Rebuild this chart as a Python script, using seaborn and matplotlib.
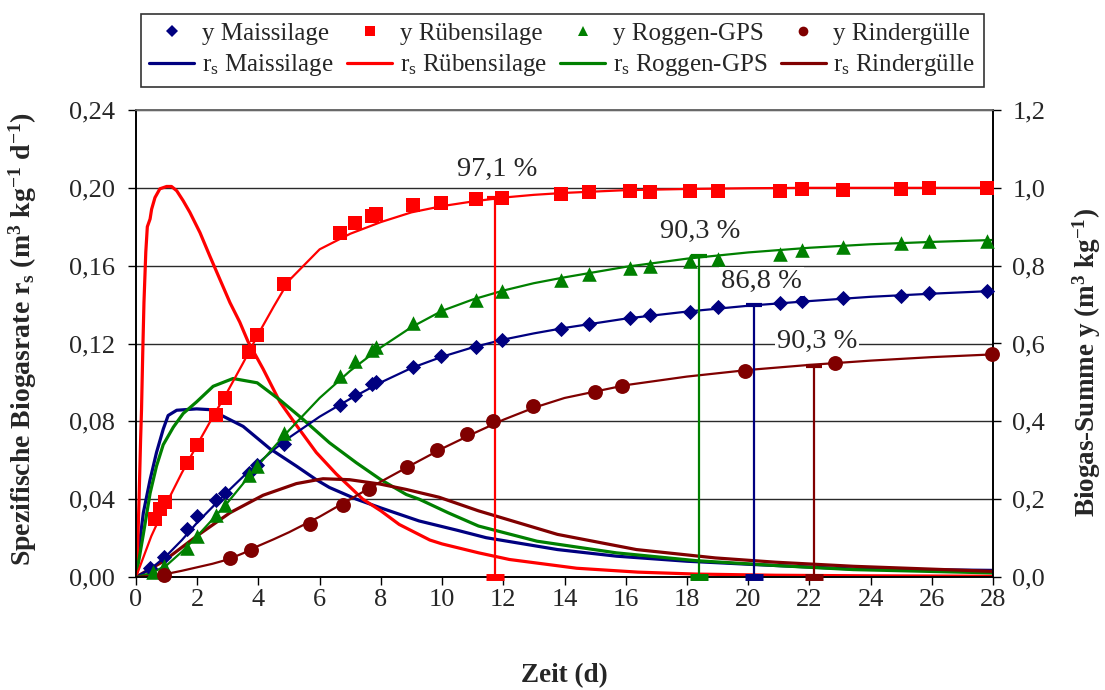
import matplotlib
matplotlib.use("Agg")
import matplotlib.pyplot as plt
from matplotlib.lines import Line2D
from matplotlib.ticker import FuncFormatter, MultipleLocator
import seaborn as sns

# ---------------- data ----------------
# cumulative biogas yield y (m3/kg) – measured points
t_mais = [0.45, 0.9, 1.65, 2.0, 2.6, 2.9, 3.7, 3.95, 4.85, 6.65, 7.15, 7.7, 7.85, 9.05, 9.95,
          11.1, 11.95, 13.9, 14.8, 16.15, 16.8, 18.1, 19.0, 21.05, 21.75, 23.1, 25.0, 25.9, 27.8]
y_mais = [0.024, 0.052, 0.124, 0.156, 0.199, 0.216, 0.268, 0.289, 0.343, 0.443, 0.468, 0.495, 0.501,
          0.539, 0.567, 0.591, 0.608, 0.637, 0.651, 0.665, 0.674, 0.682, 0.693, 0.705, 0.708, 0.717,
          0.723, 0.731, 0.734]

t_rueben = [0.62, 0.8, 0.95, 1.65, 2.0, 2.6, 2.9, 3.7, 3.95, 4.85, 6.65, 7.15, 7.7, 7.85, 9.05, 9.95,
            11.1, 11.95, 13.9, 14.8, 16.15, 16.8, 18.1, 19.0, 21.05, 21.75, 23.1, 25.0, 25.9, 27.8]
y_rueben = [0.150, 0.175, 0.192, 0.292, 0.340, 0.416, 0.461, 0.578, 0.621, 0.752, 0.883, 0.909, 0.927,
            0.932, 0.956, 0.962, 0.972, 0.974, 0.985, 0.989, 0.991, 0.990, 0.992, 0.991, 0.991, 0.996,
            0.995, 0.998, 0.999, 1.000]

t_roggen = [0.55, 0.9, 1.65, 2.0, 2.6, 2.9, 3.7, 3.95, 4.85, 6.65, 7.15, 7.7, 7.85, 9.05, 9.95,
            11.1, 11.95, 13.9, 14.8, 16.15, 16.8, 18.1, 19.0, 21.05, 21.75, 23.1, 25.0, 25.9, 27.8]
y_roggen = [0.012, 0.027, 0.075, 0.105, 0.160, 0.186, 0.261, 0.286, 0.370, 0.516, 0.554, 0.583, 0.590,
            0.652, 0.685, 0.712, 0.734, 0.762, 0.779, 0.794, 0.800, 0.813, 0.818, 0.831, 0.841, 0.848,
            0.858, 0.864, 0.864]

t_rinder = [0.9, 3.07, 3.77, 5.67, 6.76, 7.61, 8.85, 9.83, 10.8, 11.66, 12.97, 15.0, 15.87, 19.9,
            22.85, 27.96]
y_rinder = [0.004, 0.049, 0.070, 0.137, 0.186, 0.225, 0.282, 0.326, 0.368, 0.401, 0.440, 0.476, 0.490,
            0.530, 0.551, 0.573]

# cumulative yield y – fitted curves
tf = [0, 0.5, 1, 1.5, 2, 2.5, 3, 3.5, 4, 4.5, 5, 6, 7, 8, 9, 10, 11, 12, 13, 14, 16, 18, 20, 22, 24,
      26, 28]
yf_mais = [0, 0.022, 0.055, 0.095, 0.140, 0.180, 0.220, 0.258, 0.293, 0.327, 0.358, 0.412, 0.458,
           0.500, 0.537, 0.566, 0.590, 0.610, 0.626, 0.640, 0.664, 0.682, 0.697, 0.709, 0.720, 0.728,
           0.735]
yf_rueben = [0, 0.105, 0.190, 0.268, 0.340, 0.410, 0.478, 0.550, 0.625, 0.695, 0.762, 0.842, 0.882,
             0.912, 0.937, 0.953, 0.965, 0.975, 0.982, 0.987, 0.994, 0.997, 0.999, 1.0, 1.0, 1.0, 1.0]
yf_roggen = [0, 0.010, 0.030, 0.065, 0.105, 0.148, 0.192, 0.240, 0.288, 0.333, 0.377, 0.460, 0.530,
             0.590, 0.642, 0.684, 0.713, 0.736, 0.755, 0.770, 0.797, 0.818, 0.834, 0.846, 0.855, 0.861,
             0.866]
yf_rinder = [0, 0.003, 0.008, 0.016, 0.025, 0.034, 0.045, 0.061, 0.080, 0.097, 0.115, 0.155, 0.200,
             0.245, 0.288, 0.330, 0.368, 0.404, 0.435, 0.460, 0.493, 0.515, 0.532, 0.545, 0.556, 0.565,
             0.572]

# specific biogas rate r_s (m3/(kg d))
tr_mais = [0, 0.13, 0.24, 0.46, 0.67, 0.89, 1.05, 1.33, 1.98, 2.41, 2.85, 3.5, 4.37, 5.24, 5.89, 6.32,
           7.2, 8.0, 9.25, 10.5, 11.44, 13.77, 15.7, 18.0, 20.2, 23.44, 28]
rs_mais = [0, 0.019, 0.033, 0.050, 0.064, 0.076, 0.083, 0.0857, 0.0864, 0.086, 0.0826, 0.0774, 0.066,
           0.057, 0.050, 0.046, 0.040, 0.0355, 0.0288, 0.024, 0.0202, 0.0141, 0.0107, 0.0081, 0.0064,
           0.0041, 0.0034]

tr_rueben = [0, 0.05, 0.10, 0.15, 0.18, 0.22, 0.26, 0.32, 0.37, 0.46, 0.51, 0.62, 0.78, 1.0, 1.16,
             1.33, 1.54, 1.76, 2.09, 2.41, 2.74, 3.07, 3.39, 3.66, 4.15, 4.70, 5.24, 5.89, 6.54, 7.41,
             8.0, 8.6, 9.6, 10.0, 11.2, 12.2, 14.4, 16.4, 18.3, 20.9, 24, 28]
rs_rueben = [0, 0.013, 0.040, 0.0705, 0.0857, 0.115, 0.141, 0.167, 0.180, 0.184, 0.189, 0.195, 0.1995,
             0.2007, 0.2007, 0.1985, 0.1934, 0.1874, 0.177, 0.165, 0.153, 0.141, 0.131, 0.121, 0.107,
             0.090, 0.078, 0.064, 0.053, 0.040, 0.034, 0.027, 0.019, 0.017, 0.0124, 0.009, 0.0045,
             0.0025, 0.0015, 0.0009, 0.0006, 0.0004]

tr_roggen = [0, 0.24, 0.46, 0.67, 0.89, 1.22, 1.54, 1.98, 2.52, 3.17, 3.96, 4.7, 5.46, 6.32, 7.2, 8.0,
             8.83, 9.25, 10.2, 11.19, 13.1, 15.7, 18.3, 20.9, 23.44, 28]
rs_roggen = [0, 0.022, 0.043, 0.057, 0.068, 0.077, 0.084, 0.0900, 0.098, 0.1020, 0.0998, 0.091, 0.081,
             0.069, 0.0587, 0.050, 0.0424, 0.040, 0.033, 0.0262, 0.0184, 0.0124, 0.0084, 0.0059,
             0.0038, 0.0021]

tr_rinder = [0, 0.89, 1.98, 3.07, 4.15, 5.24, 6.11, 6.98, 7.96, 8.83, 9.9, 11.19, 13.77, 16.35, 18.93,
             20.9, 23.44, 28]
rs_rinder = [0, 0.008, 0.021, 0.033, 0.042, 0.048, 0.0505, 0.050, 0.0478, 0.045, 0.041, 0.034, 0.0219,
             0.0141, 0.0098, 0.0076, 0.0055, 0.0029]

# degradation markers: time, yield reached, label
mark_t = [11.74, 18.38, 20.18, 22.16]
mark_y = [0.974, 0.824, 0.700, 0.5425]
mark_label = ["97,1 %", "90,3 %", "86,8 %", "90,3 %"]
mark_label_xy = [(11.8, 1.047), (18.43, 0.888), (20.43, 0.760), (22.24, 0.605)]

names = ["Maissilage", "Rübensilage", "Roggen-GPS", "Rindergülle"]
colors = ["#000080", "#FF0000", "#008000", "#800000"]
markers = ["D", "s", "^", "o"]
sizes = [60, 110, 110, 115]

# ---------------- styling ----------------
sns.set_theme(style="white")
plt.rcParams["font.family"] = ["Liberation Serif", "DejaVu Serif"]
plt.rcParams["mathtext.fontset"] = "custom"
plt.rcParams["mathtext.rm"] = "Liberation Serif"
plt.rcParams["mathtext.it"] = "Liberation Serif:italic"
plt.rcParams["mathtext.bf"] = "Liberation Serif:bold"

fig = plt.figure(figsize=(11.05, 6.9), dpi=100)
ax = fig.add_axes([136 / 1105, 1 - 577 / 690, 857 / 1105, 467 / 690])
ax2 = ax.twinx()

# rate curves on the left axis
for t, r, c in zip([tr_mais, tr_rueben, tr_roggen, tr_rinder],
                   [rs_mais, rs_rueben, rs_roggen, rs_rinder], colors):
    sns.lineplot(x=t, y=r, ax=ax, color=c, lw=2.3, estimator=None, sort=False, legend=False)

# fitted cumulative yields on the right axis
for y, c in zip([yf_mais, yf_rueben, yf_roggen, yf_rinder], colors):
    sns.lineplot(x=tf, y=y, ax=ax2, color=c, lw=1.6, estimator=None, sort=False, legend=False)

# measured cumulative yields
for t, y, c, m, s in zip([t_mais, t_rueben, t_roggen, t_rinder],
                         [y_mais, y_rueben, y_roggen, y_rinder], colors, markers, sizes):
    sns.scatterplot(x=t, y=y, ax=ax2, color=c, marker=m, s=s, linewidth=0, legend=False,
                    zorder=5, clip_on=False)

# degradation markers with caps and percentage labels
for xm, ym, c, lab, (lx, ly) in zip(mark_t, mark_y,
                                     [colors[1], colors[2], colors[0], colors[3]],
                                     mark_label, mark_label_xy):
    ax2.plot([xm, xm], [0, ym], color=c, lw=1.6, zorder=4)
    ax2.plot([xm], [ym], marker="_", ms=12, mew=3, color=c, zorder=4)
    ax2.plot([xm], [0], marker="_", ms=13, mew=5, color=c, zorder=4, clip_on=False)
    ax2.text(lx, ly, lab, ha="center", va="center", fontsize=20.5, zorder=6,
             bbox=dict(facecolor="white", edgecolor="none", pad=1.5))

# axes, ticks, grid
ax.set_xlim(0, 28)
ax.set_ylim(0, 0.24)
ax2.set_ylim(0, 1.2)
ax.xaxis.set_major_locator(MultipleLocator(2))
ax.yaxis.set_major_locator(MultipleLocator(0.04))
ax2.yaxis.set_major_locator(MultipleLocator(0.2))
ax.yaxis.set_major_formatter(FuncFormatter(lambda v, p: f"{v:.2f}".replace(".", ",")))
ax2.yaxis.set_major_formatter(FuncFormatter(lambda v, p: f"{v:.1f}".replace(".", ",")))
ax.yaxis.grid(True, color="#2a2a2a", lw=1.0)
ax.xaxis.grid(False)
for a in (ax, ax2):
    for side, sp in a.spines.items():
        sp.set_color("black")
        sp.set_linewidth(1.2)
ax.spines["top"].set_color("#6a6a6a")
ax2.spines["top"].set_color("#6a6a6a")
ax.tick_params(axis="x", direction="out", length=5.5, width=1.0, color="black",
               labelsize=19, pad=3, bottom=True)
ax.tick_params(axis="y", direction="out", length=5.5, width=1.0, color="black",
               labelsize=19, pad=9.5, left=True)
ax2.tick_params(axis="y", direction="out", length=5.5, width=1.0, color="black",
                labelsize=19, pad=8.5, right=True)

ax.set_xlabel("Zeit (d)", fontsize=19.5, fontweight="bold")
ax.set_ylabel(r"Spezifische Biogasrate r$_{\mathbf{s}}$ (m$^{\mathbf{3}}$ kg$^{\mathbf{-1}}$ d$^{\mathbf{-1}}$)",
              fontsize=20, fontweight="bold")
ax2.set_ylabel(r"Biogas-Summe y (m$^{\mathbf{3}}$ kg$^{\mathbf{-1}}$)", fontsize=19.5, fontweight="bold")
ax.xaxis.set_label_coords(0.5, -0.185)
ax.yaxis.set_label_coords(-0.113, 0.51)
ax2.yaxis.set_label_coords(1.091, 0.46)

# legend: markers in the first row, rate curves in the second
handles, labels = [], []
for n, c, m in zip(names, colors, markers):
    handles.append(Line2D([], [], ls="none", marker=m, color=c, ms=7 if m != "D" else 6, mew=0))
    labels.append(f"y {n}")
    handles.append(Line2D([], [], color=c, lw=2.3))
    labels.append(r"r$_\mathrm{s}$ " + n)
leg = fig.legend(handles, labels, ncol=4, loc="upper left",
                 bbox_to_anchor=(128 / 1105, 1 - 8 / 690, 868 / 1105, 0.01), mode="expand",
                 fontsize=18, frameon=True, fancybox=False, edgecolor="black",
                 labelspacing=0.3, borderpad=0.35, handlelength=1.8, handletextpad=0.3,
                 columnspacing=0.8)
leg.get_frame().set_linewidth(1.2)

fig.savefig("out.png", dpi=100, facecolor="white")
